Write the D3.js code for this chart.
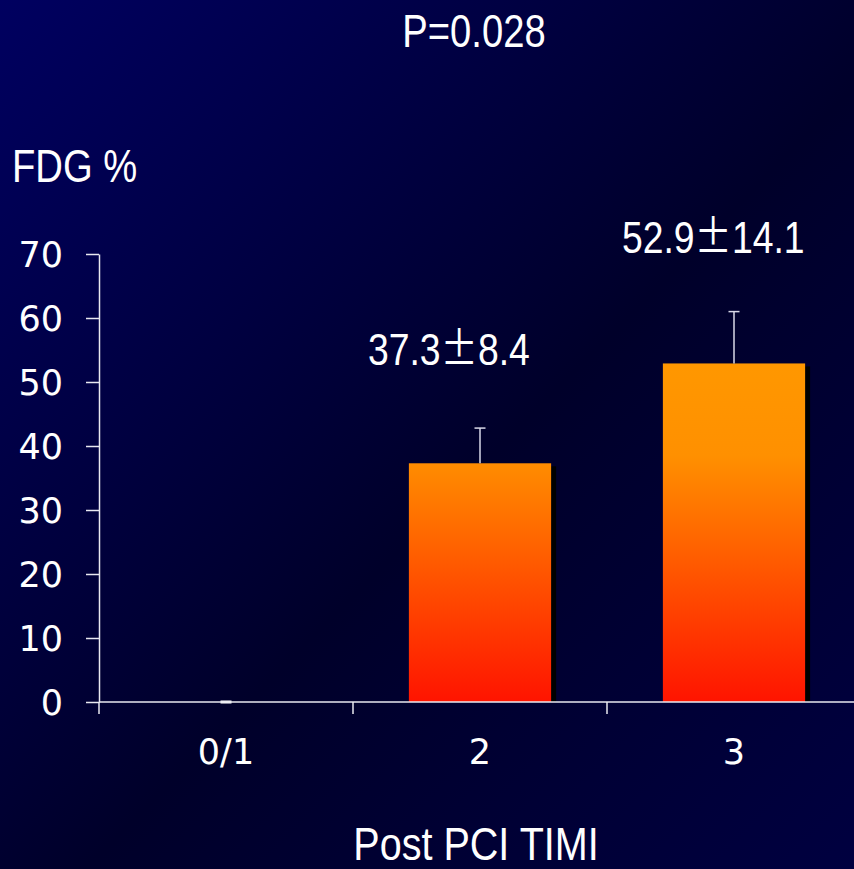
<!DOCTYPE html>
<html>
<head>
<meta charset="utf-8">
<script src="https://cdn.jsdelivr.net/npm/d3@7"></script>
<style>
  html, body { margin: 0; padding: 0; background: #00002c; }
  svg { display: block; }
</style>
</head>
<body>
<div id="chart"></div>
<script>
'use strict';

// data
var categories = ['0/1', '2', '3'];
var means = [0, 37.3, 52.9];
var errTops = [0, 42.8, 61.0];      // upper end of the drawn error whisker
var sds = [null, 8.4, 14.1];
var yTicks = [0, 10, 20, 30, 40, 50, 60, 70];

var W = 854, H = 869;
var margin = { left: 99, top: 254, bottom: 167 };
var plotH = H - margin.top - margin.bottom;   // 448

// no narrow face is installed, so squeeze Liberation Sans horizontally
var narrow = '"Liberation Sans", Arial, sans-serif';
var squeeze = 0.83;
var wide = '"DejaVu Sans", Verdana, sans-serif';
var cjk = '"Noto Sans CJK JP", "Noto Sans CJK SC", sans-serif';

var svg = d3.select('#chart').append('svg')
  .attr('width', W)
  .attr('height', H);

var defs = svg.append('defs');

var bg = defs.append('linearGradient')
  .attr('id', 'bg')
  .attr('x1', '0').attr('y1', '0')
  .attr('x2', '1').attr('y2', '1');
bg.append('stop').attr('offset', '0%').attr('stop-color', '#000060');
bg.append('stop').attr('offset', '55%').attr('stop-color', '#00002a');
bg.append('stop').attr('offset', '100%').attr('stop-color', '#000040');

var barFill = defs.append('linearGradient')
  .attr('id', 'barFill')
  .attr('gradientUnits', 'userSpaceOnUse')
  .attr('x1', 0).attr('y1', margin.top)
  .attr('x2', 0).attr('y2', margin.top + plotH);
barFill.append('stop').attr('offset', '0%').attr('stop-color', '#ffa000');
barFill.append('stop').attr('offset', '45%').attr('stop-color', '#ff9000');
barFill.append('stop').attr('offset', '100%').attr('stop-color', '#ff1400');

svg.append('rect')
  .attr('width', W).attr('height', H)
  .attr('fill', 'url(#bg)');

var y = d3.scaleLinear()
  .domain([0, 70])
  .range([margin.top + plotH, margin.top]);

var x = d3.scaleBand()
  .domain(categories)
  .range([margin.left, margin.left + 254 * 3])
  .paddingInner(0.44)
  .paddingOuter(0.22);

var step = x.step();

// bar shadows
svg.append('g').selectAll('rect')
  .data(categories)
  .enter().append('rect')
  .attr('x', function(d) { return x(d) + 5; })
  .attr('y', function(d, i) { return y(means[i]) + 3; })
  .attr('width', x.bandwidth())
  .attr('height', function(d, i) { return Math.max(0, y(0) - y(means[i]) - 3); })
  .attr('fill', '#000000');

// bars
svg.append('g').selectAll('rect')
  .data(categories)
  .enter().append('rect')
  .attr('x', function(d) { return x(d); })
  .attr('y', function(d, i) { return y(means[i]); })
  .attr('width', x.bandwidth())
  .attr('height', function(d, i) { return y(0) - y(means[i]); })
  .attr('fill', 'url(#barFill)');

// error whiskers
var err = svg.append('g')
  .attr('stroke', '#d8d8e8')
  .attr('stroke-width', 1.5);
categories.forEach(function(c, i) {
  var cx = x(c) + x.bandwidth() / 2;
  err.append('line')
    .attr('x1', cx).attr('x2', cx)
    .attr('y1', y(means[i])).attr('y2', y(errTops[i]));
  err.append('line')
    .attr('x1', cx - 5.5).attr('x2', cx + 5.5)
    .attr('y1', y(errTops[i])).attr('y2', y(errTops[i]))
    .attr('stroke', i === 0 ? '#ffffff' : '#d8d8e8')
    .attr('stroke-width', i === 0 ? 3 : 1.5);
});

// y axis
var yAxis = svg.append('g')
  .attr('transform', 'translate(' + margin.left + ',0)')
  .call(d3.axisLeft(y).tickValues(yTicks).tickSize(13).tickPadding(23).tickSizeOuter(0));

// x axis, runs off the right edge
var xAxis = svg.append('g')
  .attr('transform', 'translate(0,' + y(0) + ')')
  .call(d3.axisBottom(x).tickSize(0).tickPadding(37).tickSizeOuter(0));
xAxis.select('.domain').attr('d', 'M' + margin.left + ',0H' + W);
xAxis.selectAll('.sep')
  .data(d3.range(categories.length + 1))
  .enter().append('line')
  .attr('class', 'sep')
  .attr('x1', function(d) { return margin.left + d * step; })
  .attr('x2', function(d) { return margin.left + d * step; })
  .attr('y1', 0).attr('y2', 12);

[yAxis, xAxis].forEach(function(g) {
  g.selectAll('.domain, line').attr('stroke', '#e8e8f0').attr('stroke-width', 1.5);
  g.selectAll('text')
    .attr('fill', '#ffffff')
    .style('font-family', wide)
    .style('font-size', '35px');
});
yAxis.selectAll('text').attr('dy', '0.36em');
xAxis.selectAll('text').attr('dy', '0.71em');

// narrow white text, squeezed about its anchor point
function label(txt, px, py, anchor, size, sx) {
  return svg.append('text')
    .attr('transform', 'translate(' + px + ',' + py + ') scale(' + (sx || squeeze) + ',1)')
    .attr('text-anchor', anchor)
    .attr('fill', '#ffffff')
    .style('font-family', narrow)
    .style('font-size', size + 'px')
    .text(txt);
}

// value labels above bars: mean, full-width plus-minus, sd
categories.forEach(function(c, i) {
  if (sds[i] == null) return;
  var t = label('', x(c) - 41, i === 1 ? 365 : 253, 'start', 45);
  t.append('tspan').text(d3.format('.1f')(means[i]));
  t.append('tspan').style('font-family', cjk).text('\u00b1');
  t.append('tspan').text(d3.format('.1f')(sds[i]));
});

// titles
label('P=0.028', 474, 47, 'middle', 46);
label('FDG %', 12, 182, 'start', 46);
label('Post PCI TIMI', 476, 860, 'middle', 46, 0.86);
</script>
</body>
</html>
